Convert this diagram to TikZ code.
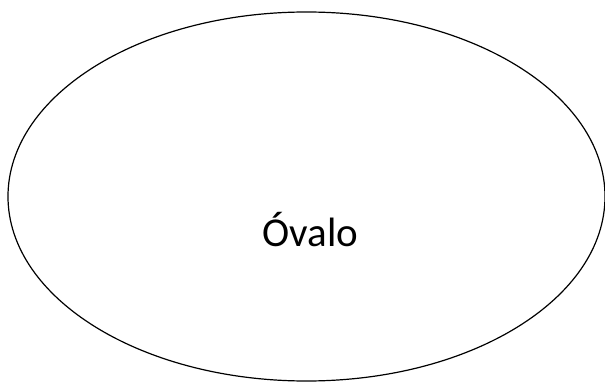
\documentclass[tikz,border=0pt]{standalone}
\usepackage{fontspec}
\setmainfont{Carlito}
\usetikzlibrary{shapes.geometric}

\begin{document}
\begin{tikzpicture}[x=1pt,y=-1pt]
    % canvas
    \useasboundingbox (0,0) rectangle (605,382);

    % the oval
    \node[draw,ellipse,line width=1.2pt,inner sep=0pt,
          minimum width=597pt,minimum height=369pt] (oval) at (306.5,196.5) {};

    % its label
    \node[font=\fontsize{41}{49}\selectfont,inner sep=0pt,anchor=base] (ovallabel) at (310.5,247) {Óvalo};
\end{tikzpicture}
\end{document}
